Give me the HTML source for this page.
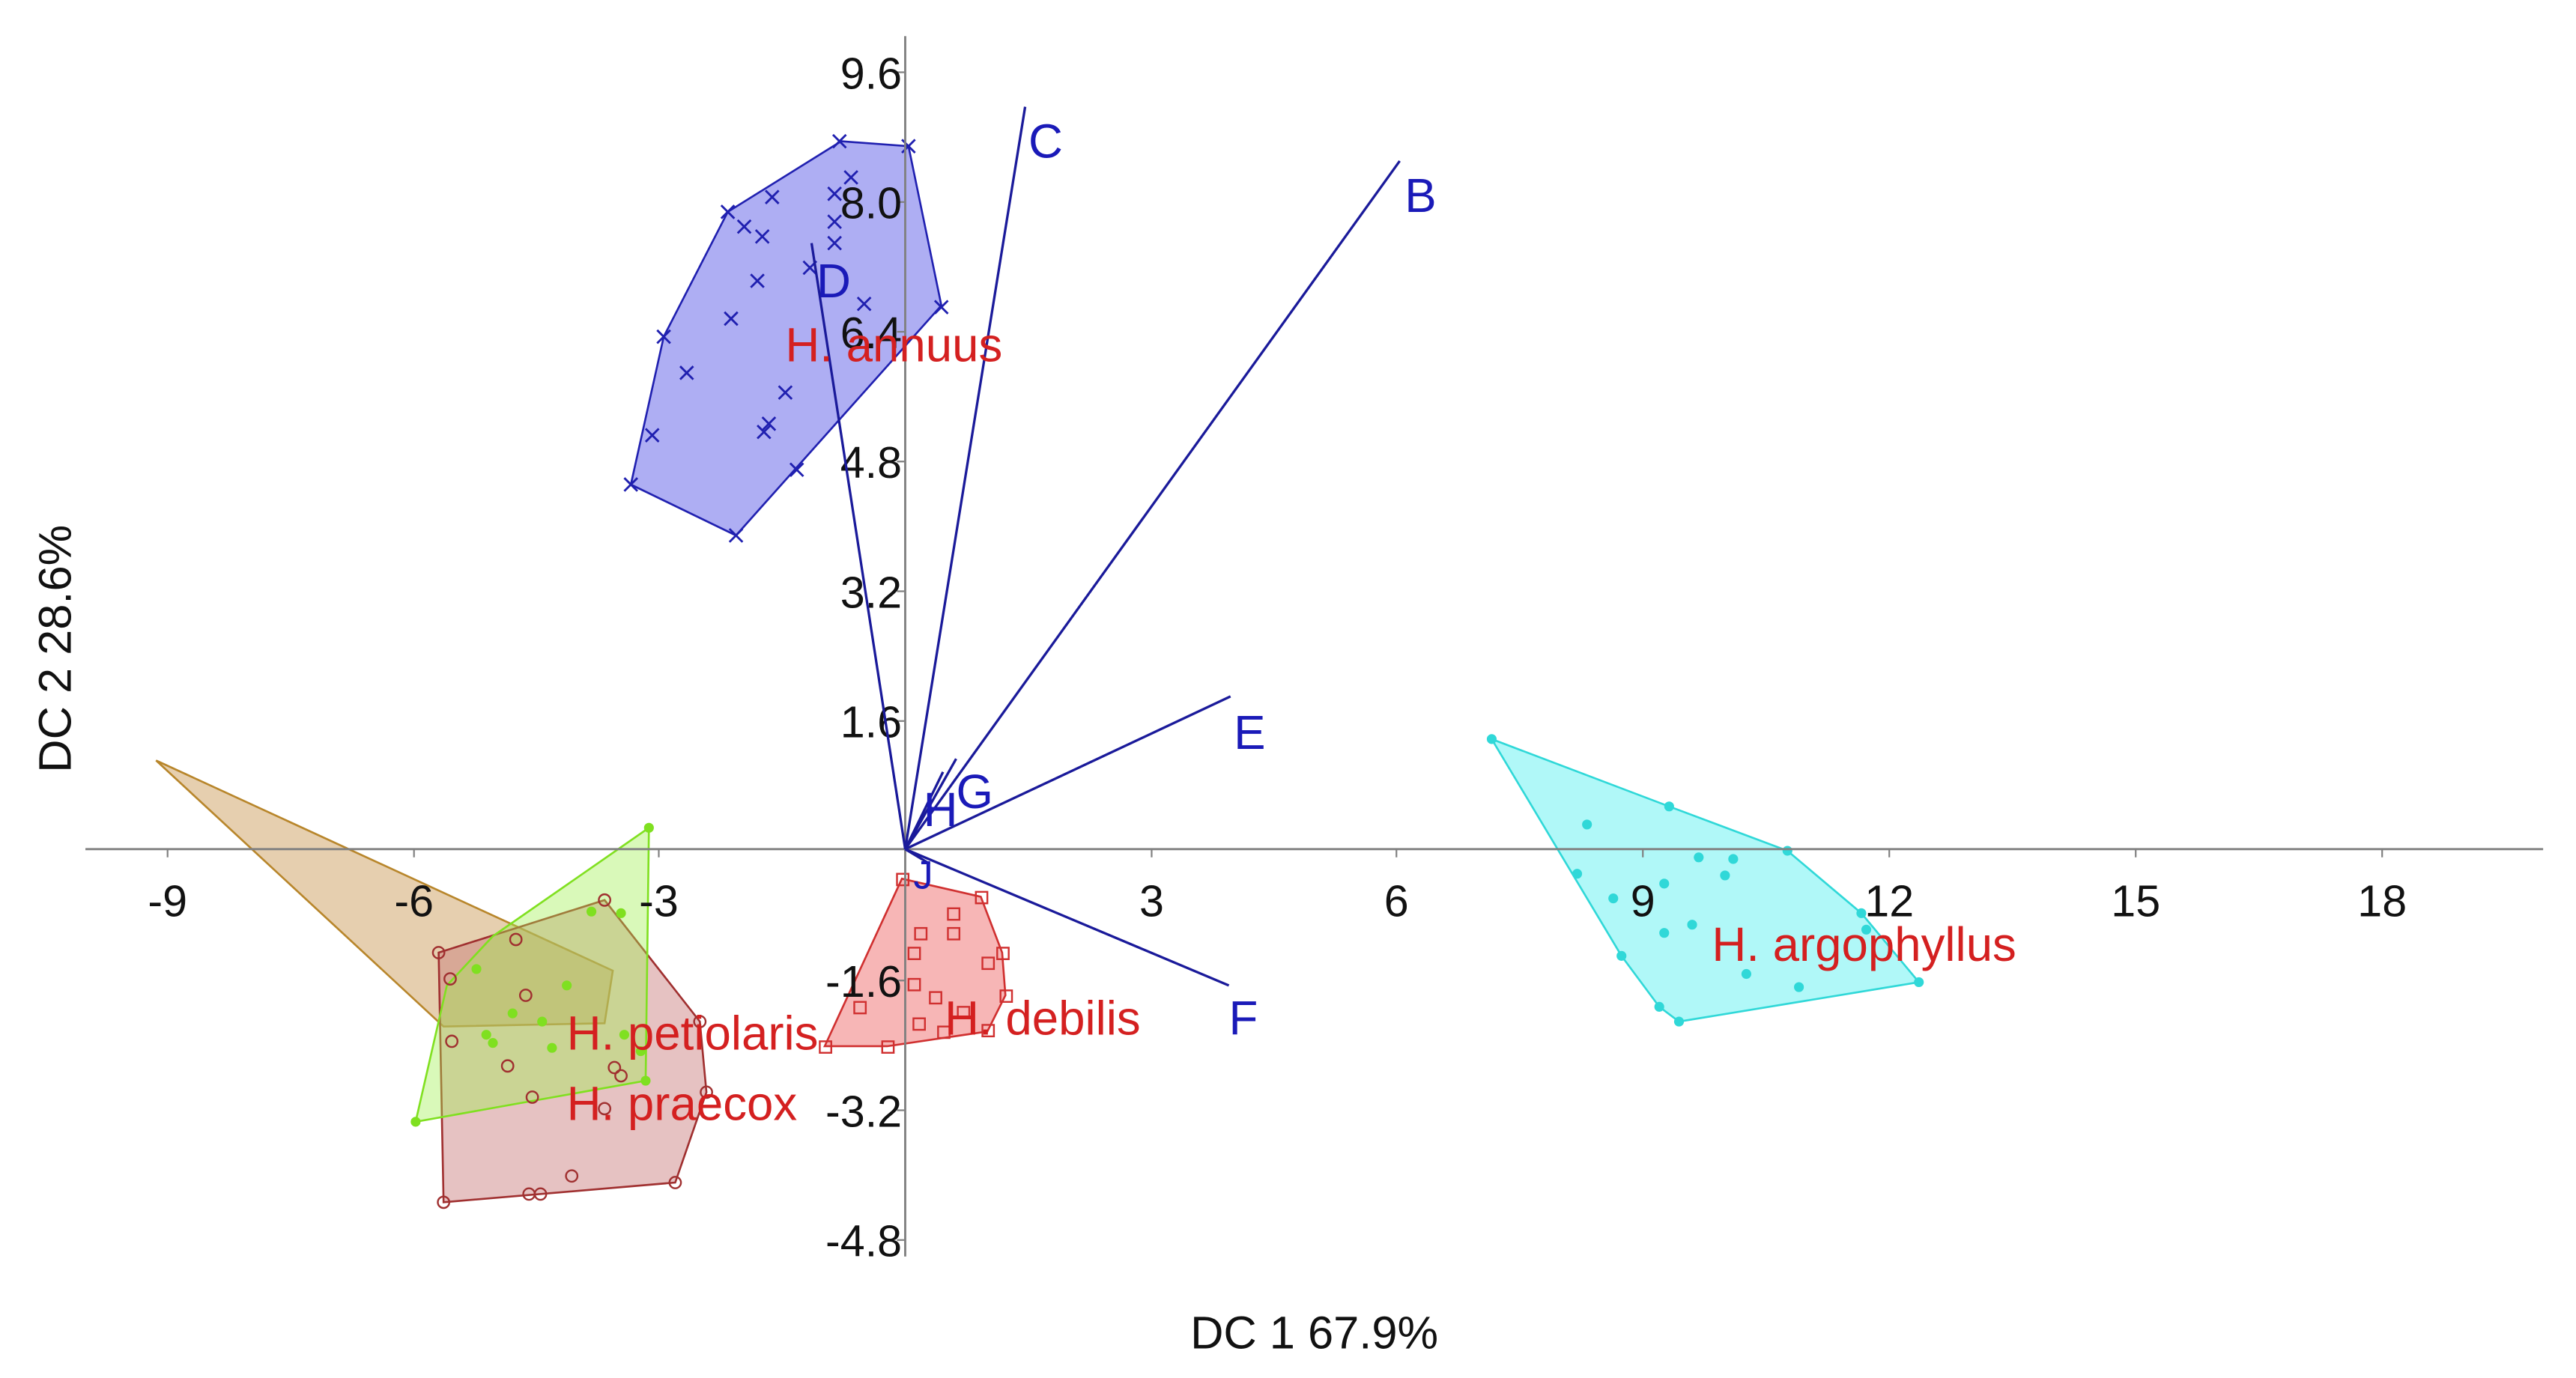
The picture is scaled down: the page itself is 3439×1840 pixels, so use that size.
<!DOCTYPE html>
<html><head><meta charset="utf-8"><style>
html,body{margin:0;padding:0;background:#fff;}
svg{display:block;}
text{font-family:"Liberation Sans","DejaVu Sans",sans-serif;}
</style></head><body>
<svg width="3439" height="1840" viewBox="0 0 1568 839" preserveAspectRatio="none" xmlns="http://www.w3.org/2000/svg">
<rect width="1568" height="839" fill="#fff"/>
<polygon points="95,463 373,591 368,623 270,625" fill="rgba(205,160,95,0.5)" stroke="#b8862b" stroke-width="1.2"/>
<polygon points="267,580 368,548 426,622 430,665 411,720 270,732" fill="rgba(200,120,120,0.45)" stroke="#a03030" stroke-width="1.2"/>
<polygon points="395,504 393,658 253,683 272,600 300,570" fill="rgba(160,240,80,0.4)" stroke="#80e020" stroke-width="1.2"/>
<polygon points="549,535 597,546 610,580 612,606 601,628 540,637 502,637" fill="rgba(240,110,110,0.5)" stroke="#d03030" stroke-width="1.2"/>
<polygon points="908,450 1016,491 1088,518 1133,556 1168,598 1022,622 1010,613 987,582" fill="rgba(80,240,240,0.45)" stroke="#30d8d8" stroke-width="1.2"/>
<polygon points="512,86 553,89 573,186 448,326 384,295 404,205 443,129" fill="rgba(120,120,235,0.6)" stroke="#2020b0" stroke-width="1.2"/>
<g stroke="#2020b0" stroke-width="1.3" fill="none">
<path d="M507,82l8,8m0,-8l-8,8M549,85l8,8m0,-8l-8,8M514,104l8,8m0,-8l-8,8M466,116l8,8m0,-8l-8,8M504,114l8,8m0,-8l-8,8M439,125l8,8m0,-8l-8,8M449,134l8,8m0,-8l-8,8M460,140l8,8m0,-8l-8,8M504,131l8,8m0,-8l-8,8M504,144l8,8m0,-8l-8,8M489,159l8,8m0,-8l-8,8M457,167l8,8m0,-8l-8,8M522,181l8,8m0,-8l-8,8M569,183l8,8m0,-8l-8,8M441,190l8,8m0,-8l-8,8M400,201l8,8m0,-8l-8,8M414,223l8,8m0,-8l-8,8M474,235l8,8m0,-8l-8,8M464,254l8,8m0,-8l-8,8M461,259l8,8m0,-8l-8,8M393,261l8,8m0,-8l-8,8M481,282l8,8m0,-8l-8,8M380,291l8,8m0,-8l-8,8M444,322l8,8m0,-8l-8,8"/>
</g>
<g fill="none" stroke="#a03030" stroke-width="1.1">
<circle cx="267" cy="580" r="3.5"/><circle cx="368" cy="548" r="3.5"/><circle cx="314" cy="572" r="3.5"/><circle cx="274" cy="596" r="3.5"/><circle cx="320" cy="606" r="3.5"/><circle cx="275" cy="634" r="3.5"/><circle cx="309" cy="649" r="3.5"/><circle cx="324" cy="668" r="3.5"/><circle cx="374" cy="650" r="3.5"/><circle cx="378" cy="655" r="3.5"/><circle cx="348" cy="716" r="3.5"/><circle cx="322" cy="727" r="3.5"/><circle cx="329" cy="727" r="3.5"/><circle cx="270" cy="732" r="3.5"/><circle cx="411" cy="720" r="3.5"/><circle cx="430" cy="665" r="3.5"/><circle cx="426" cy="622" r="3.5"/><circle cx="368" cy="675" r="3.5"/>
</g>
<g fill="#7fe020">
<circle cx="395" cy="504" r="3"/><circle cx="253" cy="683" r="3"/><circle cx="393" cy="658" r="3"/><circle cx="360" cy="555" r="3"/><circle cx="378" cy="556" r="3"/><circle cx="345" cy="600" r="3"/><circle cx="312" cy="617" r="3"/><circle cx="296" cy="630" r="3"/><circle cx="330" cy="622" r="3"/><circle cx="380" cy="630" r="3"/><circle cx="290" cy="590" r="3"/><circle cx="300" cy="635" r="3"/><circle cx="390" cy="640" r="3"/><circle cx="336" cy="638" r="3"/>
</g>
<g fill="none" stroke="#d03030" stroke-width="1.1">
<rect x="546" y="532" width="7" height="7"/><rect x="594" y="543" width="7" height="7"/><rect x="607" y="577" width="7" height="7"/><rect x="609" y="603" width="7" height="7"/><rect x="598" y="624" width="7" height="7"/><rect x="537" y="634" width="7" height="7"/><rect x="499" y="634" width="7" height="7"/><rect x="577" y="553" width="7" height="7"/><rect x="577" y="565" width="7" height="7"/><rect x="557" y="565" width="7" height="7"/><rect x="553" y="577" width="7" height="7"/><rect x="553" y="596" width="7" height="7"/><rect x="598" y="583" width="7" height="7"/><rect x="566" y="604" width="7" height="7"/><rect x="571" y="625" width="7" height="7"/><rect x="520" y="610" width="7" height="7"/><rect x="556" y="620" width="7" height="7"/><rect x="583" y="613" width="7" height="7"/>
</g>
<g fill="#30d8d8">
<circle cx="908" cy="450" r="3"/><circle cx="1016" cy="491" r="3"/><circle cx="1088" cy="518" r="3"/><circle cx="1133" cy="556" r="3"/><circle cx="1168" cy="598" r="3"/><circle cx="1022" cy="622" r="3"/><circle cx="1010" cy="613" r="3"/><circle cx="987" cy="582" r="3"/><circle cx="966" cy="502" r="3"/><circle cx="960" cy="532" r="3"/><circle cx="982" cy="547" r="3"/><circle cx="1013" cy="538" r="3"/><circle cx="1034" cy="522" r="3"/><circle cx="1055" cy="523" r="3"/><circle cx="1050" cy="533" r="3"/><circle cx="1030" cy="563" r="3"/><circle cx="1013" cy="568" r="3"/><circle cx="1063" cy="593" r="3"/><circle cx="1095" cy="601" r="3"/><circle cx="1136" cy="566" r="3"/>
</g>
<g stroke="#808080" stroke-width="1.3">
<line x1="52" y1="517" x2="1548" y2="517"/>
<line x1="551" y1="22" x2="551" y2="765"/>
</g>
<g stroke="#808080" stroke-width="1">
<path d="M102,517v5M252,517v5M401,517v5M701,517v5M850,517v5M1000,517v5M1150,517v5M1300,517v5M1450,517v5"/>
<path d="M546,44h5M546,123h5M546,202h5M546,281h5M546,360h5M546,439h5M546,597h5M546,676h5M546,755h5"/>
</g>
<g font-size="27" fill="#111" text-anchor="middle">
<text x="102" y="558">-9</text><text x="252" y="558">-6</text><text x="401" y="558">-3</text><text x="701" y="558">3</text><text x="850" y="558">6</text><text x="1000" y="558">9</text><text x="1150" y="558">12</text><text x="1300" y="558">15</text><text x="1450" y="558">18</text>
</g>
<g font-size="27" fill="#111" text-anchor="end">
<text x="549" y="54">9.6</text><text x="549" y="133">8.0</text><text x="549" y="212">6.4</text><text x="549" y="291">4.8</text><text x="549" y="370">3.2</text><text x="549" y="449">1.6</text><text x="549" y="607">-1.6</text><text x="549" y="686">-3.2</text><text x="549" y="765">-4.8</text>
</g>
<g stroke="#1a1a9a" stroke-width="1.5">
<line x1="551" y1="517" x2="624" y2="65"/>
<line x1="551" y1="517" x2="852" y2="98"/>
<line x1="551" y1="517" x2="494" y2="148"/>
<line x1="551" y1="517" x2="749" y2="424"/>
<line x1="551" y1="517" x2="748" y2="600"/>
<line x1="551" y1="517" x2="582" y2="462"/>
<line x1="551" y1="517" x2="574" y2="470"/>
<line x1="551" y1="517" x2="566" y2="526"/>
</g>
<g font-size="29" fill="#1a1ab8">
<text x="626" y="96">C</text><text x="855" y="129">B</text><text x="497" y="181">D</text><text x="751" y="456">E</text><text x="748" y="630">F</text><text x="582" y="492">G</text><text x="562" y="503">H</text><text x="556" y="541" font-size="24">J</text>
</g>
<g font-size="29" fill="#d42020">
<text x="478" y="220">H. annuus</text>
<text x="345" y="639">H. petiolaris</text>
<text x="345" y="682">H. praecox</text>
<text x="575" y="630">H. debilis</text>
<text x="1042" y="585">H. argophyllus</text>
</g>
<text x="800" y="821" font-size="28" fill="#111" text-anchor="middle">DC 1 67.9%</text>
<text transform="translate(43,395) rotate(-90)" font-size="28" fill="#111" text-anchor="middle">DC 2 28.6%</text>
</svg>
</body></html>
